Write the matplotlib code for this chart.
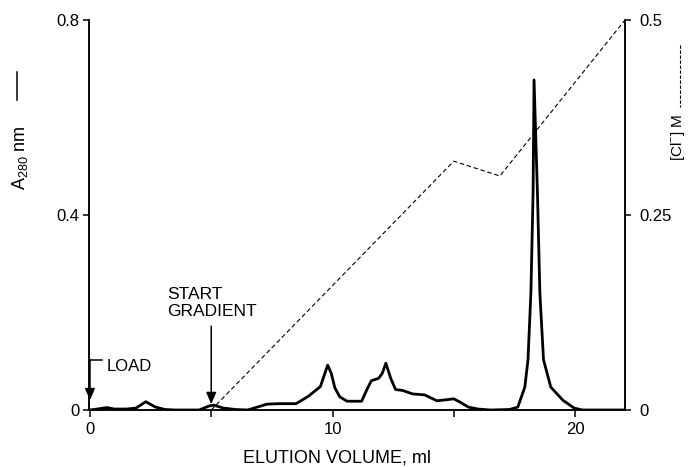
import numpy as np
import matplotlib
matplotlib.use("Agg")
import matplotlib.pyplot as plt
from matplotlib.lines import Line2D

plt.rcParams['font.family'] = ['Liberation Sans', 'DejaVu Sans']
plt.rcParams['mathtext.fontset'] = 'custom'
plt.rcParams['mathtext.rm'] = 'Liberation Sans'

#region Data
# absorbance trace, elution volume in ml
vol = [0, 0.3, 0.7, 1.0, 1.5, 1.9, 2.3, 2.7, 3.1, 3.5, 4.5, 4.9, 5.1, 5.5, 6.0,
       6.5, 6.9, 7.3, 7.8, 8.5, 9.0, 9.3, 9.5, 9.65, 9.8, 9.95, 10.1, 10.3,
       10.6, 11.2, 11.4, 11.6, 11.9, 12.05, 12.2, 12.4, 12.6, 12.9, 13.3,
       13.8, 14.3, 14.7, 15.0, 15.3, 15.6, 16.0, 16.5, 17.3, 17.64, 17.93,
       18.06, 18.18, 18.27, 18.31, 18.45, 18.55, 18.7, 19.0, 19.5, 19.96,
       20.3, 22.06]
a280 = [0, 0.002, 0.005, 0.002, 0.002, 0.004, 0.017, 0.006, 0.001, 0, 0,
        0.008, 0.010, 0.004, 0.001, 0, 0.006, 0.012, 0.013, 0.013, 0.028,
        0.040, 0.048, 0.070, 0.092, 0.075, 0.045, 0.027, 0.018, 0.018, 0.040,
        0.060, 0.065, 0.075, 0.096, 0.065, 0.042, 0.040, 0.033, 0.031, 0.019,
        0.021, 0.023, 0.015, 0.006, 0.002, 0, 0.001, 0.006, 0.047, 0.103,
        0.24, 0.445, 0.677, 0.445, 0.24, 0.103, 0.047, 0.020, 0.004, 0, 0]

# chloride gradient (M)
grad_vol = [5.0, 15.0, 16.9, 22.06]
grad_cl = [0.0, 0.319, 0.30, 0.5]

x_ticks = [0, 5, 10, 15, 20]
x_ticklabels = ['0', '', '10', '', '20']
left_ticks = [0, 0.4, 0.8]
left_ticklabels = ['0', '0.4', '0.8']
right_ticks = [0, 0.25, 0.5]
right_ticklabels = ['0', '0.25', '0.5']
#endregion

fig = plt.figure(figsize=(6.9, 4.67), dpi=100)
ax = fig.add_axes([89/690, 1 - 410/467, (625 - 89)/690, (410 - 20)/467])
ax2 = ax.twinx()

ax.plot(vol, a280, color='black', lw=2.0, solid_joinstyle='round', zorder=3)
ax2.plot(grad_vol, grad_cl, color='black', lw=0.8, dashes=(4, 2.5))

ax.set_xlim(-0.04, 22.06)
ax.set_ylim(0, 0.8)
ax2.set_ylim(0, 0.5)

for a in (ax, ax2):
    a.spines['top'].set_visible(False)
    for s in a.spines.values():
        s.set_linewidth(1.1)

ax.set_xticks(x_ticks)
ax.set_xticklabels(x_ticklabels)
ax.set_yticks(left_ticks)
ax.set_yticklabels(left_ticklabels)
ax2.set_yticks(right_ticks)
ax2.set_yticklabels(right_ticklabels)
ax.tick_params(axis='x', direction='out', length=5, width=1.1, pad=4, labelsize=12)
ax.tick_params(axis='y', direction='out', length=4, width=1.1, pad=3, labelsize=12)
ax2.tick_params(axis='y', direction='out', length=4, width=1.1, pad=6, labelsize=12)

# axis labels with line-style keys
fig.text(20/690, 1 - 158/467, r'A$_{\mathrm{280}}$ nm', rotation=90,
         ha='center', va='center', fontsize=13)
fig.add_artist(Line2D([17/690, 17/690], [1 - 72/467, 1 - 100/467],
                      color='black', lw=1.1))
fig.text(678/690, 1 - 137/467, r'[Cl$^{-}$] M', rotation=90,
         ha='center', va='center', fontsize=11)
fig.add_artist(Line2D([680/690, 680/690], [1 - 45/467, 1 - 107/467],
                      color='black', lw=0.8, dashes=(3, 1.5)))
fig.text(337/690, 1 - 458/467, 'ELUTION VOLUME, ml', ha='center',
         va='center', fontsize=13)

# LOAD marker
ax.annotate('', xy=(0, 0.02), xytext=(0, 0.104),
            arrowprops=dict(arrowstyle='-|>,head_length=0.7,head_width=0.3',
                            color='black', lw=1.1, shrinkA=0, shrinkB=0))
ax.plot([0, 0.5], [0.103, 0.103], color='black', lw=1.1, clip_on=False)
ax.text(0.7, 0.09, 'LOAD', ha='left', va='center', fontsize=12)

# START GRADIENT marker
ax.annotate('', xy=(5, 0.012), xytext=(5, 0.172),
            arrowprops=dict(arrowstyle='-|>,head_length=0.7,head_width=0.3',
                            color='black', lw=1.1, shrinkA=0, shrinkB=0))
ax.text(3.18, 0.22, 'START\nGRADIENT', ha='left', va='center',
        fontsize=12.5, linespacing=1.15)

fig.savefig('out.png', dpi=100)
